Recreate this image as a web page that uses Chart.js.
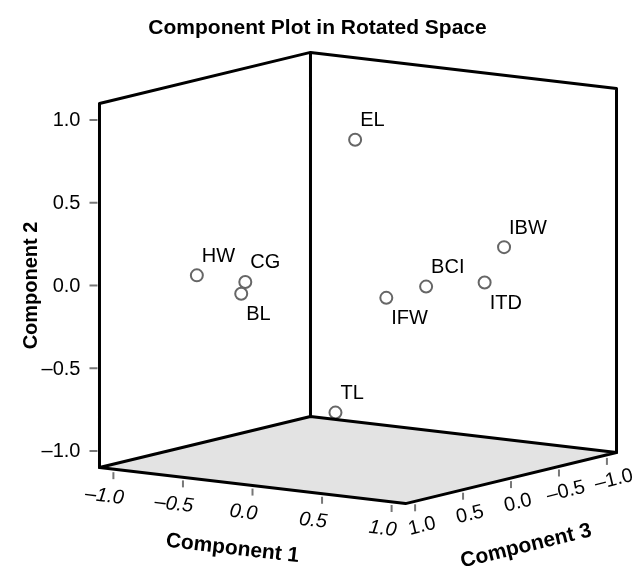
<!DOCTYPE html>
<html>
<head>
<meta charset="utf-8">
<title>Component Plot in Rotated Space</title>
<script src="https://cdn.jsdelivr.net/npm/chart.js@4/dist/chart.umd.min.js"></script>
<style>
  body { margin: 0; background: #fff; }
  #wrap { width: 635px; height: 569px; }
</style>
</head>
<body>
<div id="wrap"><canvas id="plot" width="635" height="569"></canvas></div>
<script>
// rotated component loadings
const variables  = ['EL', 'HW', 'CG', 'BL', 'IFW', 'BCI', 'ITD', 'IBW', 'TL'];
const component1 = [0.20, -0.60, -0.30, -0.35, 0.50, 0.60, 0.80, 0.85, 0.10];
const component2 = [0.90, 0.07, 0.05, -0.03, -0.01, 0.03, 0.03, 0.23, -0.75];
const component3 = [0.32, 0.81, 0.74, 0.71, 0.43, 0.16, -0.16, -0.29, 0.38];

const tickValues = [-1.0, -0.5, 0.0, 0.5, 1.0];
const tickLabels = ['\u20131.0', '\u20130.5', '0.0', '0.5', '1.0'];
const labelBelow = ['BL', 'IFW', 'ITD'];
const axisLimit = 1.1;

// oblique view: shift on the page (x, y) for one unit of comp 1 and comp 3
const view = { c1: [0.8405, -0.0991], c3: [-0.5795, -0.1402] };

function project(a, b, c) {
  return {
    x: view.c1[0] * a + view.c3[0] * c,
    y: b + view.c1[1] * a + view.c3[1] * c
  };
}

const points = variables.map((v, i) => project(component1[i], component2[i], component3[i]));

const FONT = '"Liberation Sans", Arial, sans-serif';

function txt(ctx, s, x, y, font, align, angle) {
  ctx.save();
  ctx.translate(x, y);
  if (angle) ctx.rotate(angle);
  ctx.font = font;
  ctx.textAlign = align || 'center';
  ctx.textBaseline = 'middle';
  ctx.fillStyle = '#000';
  ctx.fillText(s, 0, 0);
  ctx.restore();
}

const box3d = {
  id: 'box3d',
  afterDatasetsDraw(chart) {
    const ctx = chart.ctx, sx = chart.scales.x, sy = chart.scales.y;
    const P = (a, b, c) => {
      const p = project(a, b, c);
      return [sx.getPixelForValue(p.x), sy.getPixelForValue(p.y)];
    };
    const L = -axisLimit, H = axisLimit;

    // floor: left, front, right, back corners
    const fl = P(L, L, H), ff = P(H, L, H), fr = P(H, L, L), fb = P(L, L, L);
    const tl = P(L, H, H), tr = P(H, H, L), tb = P(L, H, L);

    ctx.save();
    ctx.fillStyle = '#e3e3e3';
    ctx.beginPath();
    ctx.moveTo(...fl); ctx.lineTo(...ff); ctx.lineTo(...fr); ctx.lineTo(...fb);
    ctx.closePath();
    ctx.fill();

    ctx.strokeStyle = '#000';
    ctx.lineWidth = 3;
    ctx.lineJoin = 'round';
    ctx.lineCap = 'round';
    ctx.stroke();

    ctx.beginPath();
    ctx.moveTo(...fl); ctx.lineTo(...tl); ctx.lineTo(...tb); ctx.lineTo(...tr); ctx.lineTo(...fr);
    ctx.moveTo(...fb); ctx.lineTo(...tb);
    ctx.stroke();

    // ticks
    ctx.strokeStyle = '#777';
    ctx.lineWidth = 2;
    ctx.lineCap = 'butt';
    const a1 = Math.atan2(ff[1] - fl[1], ff[0] - fl[0]);
    const a3 = Math.atan2(fr[1] - ff[1], fr[0] - ff[0]);
    tickValues.forEach((v, i) => {
      // component 2 (vertical, left edge)
      let p = P(L, v, H);
      ctx.beginPath(); ctx.moveTo(p[0] - 10, p[1]); ctx.lineTo(p[0] - 2, p[1]); ctx.stroke();
      txt(ctx, tickLabels[i], p[0] - 19, p[1] + 1, '20px ' + FONT, 'right');

      // component 1 (front left edge)
      p = P(v, L, H);
      ctx.beginPath(); ctx.moveTo(p[0], p[1] + 3); ctx.lineTo(p[0], p[1] + 10); ctx.stroke();
      txt(ctx, tickLabels[i], p[0] - 9, p[1] + 27, 'italic 20px ' + FONT, 'center', a1);

      // component 3 (front right edge)
      p = P(H, L, v);
      ctx.beginPath(); ctx.moveTo(p[0], p[1] + 3); ctx.lineTo(p[0], p[1] + 10); ctx.stroke();
      txt(ctx, tickLabels[i], p[0] + 7, p[1] + 25, '20px ' + FONT, 'center', a3);
    });

    // axis titles
    const m1 = P(0, L, H), m3 = P(H, L, 0), m2 = P(L, 0, H);
    txt(ctx, 'Component 1', m1[0] - 20, m1[1] + 63, 'bold 21px ' + FONT, 'center', a1);
    txt(ctx, 'Component 3', m3[0] + 15, m3[1] + 68, 'bold 21px ' + FONT, 'center', a3);
    txt(ctx, 'Component 2', m2[0] - 68, m2[1], 'bold 20px ' + FONT, 'center', -Math.PI / 2);

    // title
    txt(ctx, 'Component Plot in Rotated Space', chart.width / 2, 28, 'bold 21px ' + FONT, 'center');

    // point labels
    const meta = chart.getDatasetMeta(0);
    meta.data.forEach((el, i) => {
      const below = labelBelow.includes(variables[i]);
      txt(ctx, variables[i], el.x + 5, below ? el.y + 21 : el.y - 19, '20px ' + FONT, 'left');
    });
    ctx.restore();
  }
};

new Chart(document.getElementById('plot'), {
  type: 'scatter',
  data: {
    datasets: [{
      label: 'Loadings',
      data: points,
      pointRadius: 6,
      pointBorderWidth: 2,
      pointBorderColor: '#666',
      pointBackgroundColor: '#fff'
    }]
  },
  options: {
    responsive: false,
    animation: false,
    layout: { padding: 0, autoPadding: false },
    plugins: { legend: { display: false }, tooltip: { enabled: false } },
    scales: {
      x: { type: 'linear', display: false, min: -358 / 165.5, max: (635 - 358) / 165.5 },
      y: { type: 'linear', display: false, min: -(569 - 278) / 165.5, max: 278 / 165.5 }
    }
  },
  plugins: [box3d]
});
</script>
</body>
</html>
